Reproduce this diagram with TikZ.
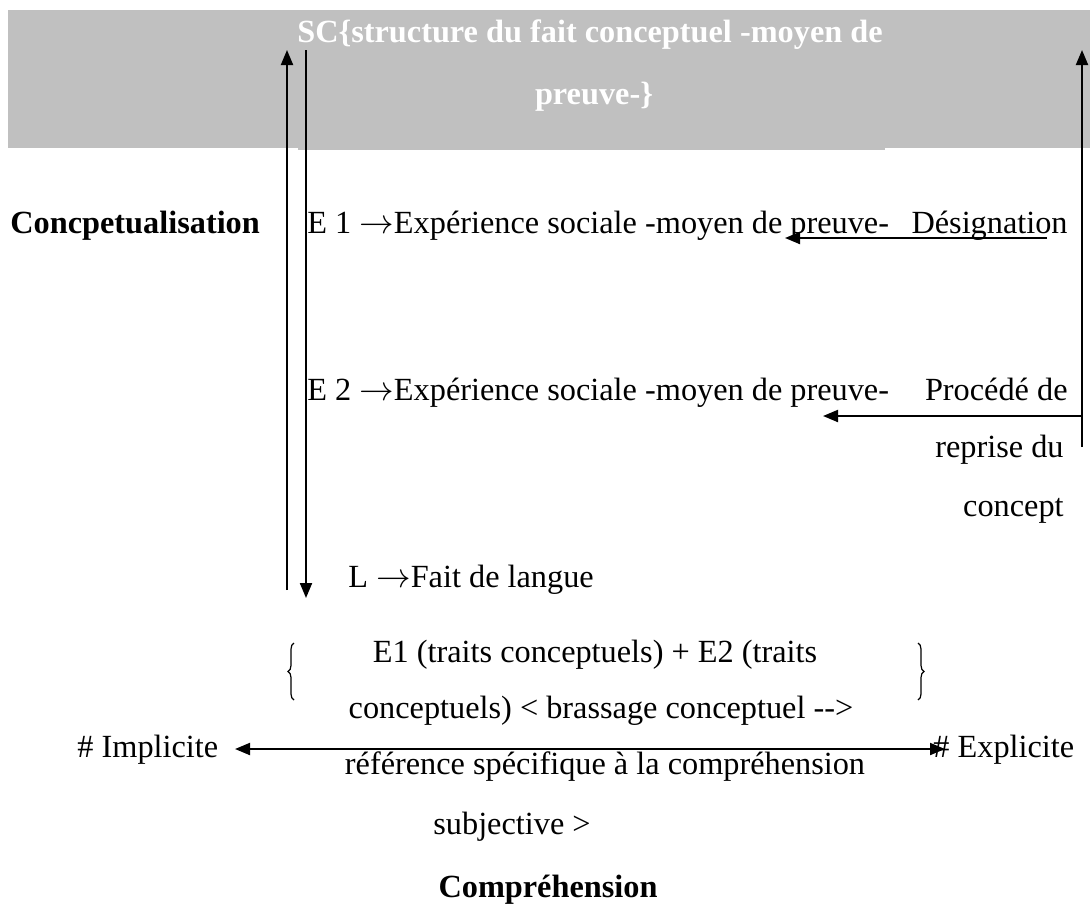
\documentclass[tikz,border=0pt]{standalone}
\usepackage{fontspec}
\setmainfont{Liberation Serif}
\usetikzlibrary{arrows.meta,decorations.pathreplacing}
\definecolor{graybg}{HTML}{C0C0C0}
\begin{document}
\begin{tikzpicture}[x=0.5pt,y=-0.5pt,
  txt/.style={inner sep=0pt,font=\fontsize{16.15pt}{19pt}\selectfont},
  btxt/.style={inner sep=0pt,font=\fontsize{16.15pt}{19pt}\selectfont\bfseries},
  arr/.style={line width=1pt,-{Triangle[length=7.5pt,width=6pt]}},
  darr/.style={line width=1pt,{Triangle[length=7.5pt,width=6pt]}-{Triangle[length=7.5pt,width=6pt]}},
  bracestyle/.style={line width=0.6pt,decorate,decoration={brace,amplitude=3pt}}
]
\useasboundingbox (0,0) rectangle (1090,905);
% grey title band
\fill[graybg] (8,10) rectangle (1090,148);
\fill[graybg] (298,147) rectangle (885,150);
\node[btxt,text=white,anchor=base] (t1) at (590,42) {SC\{structure du fait conceptuel -moyen de};
\node[btxt,text=white,anchor=base] (t2) at (594,104) {preuve-\}};
% vertical arrows
\coordinate (la0) at (287,590); \coordinate (la1) at (287,50);
\draw[arr] (la0) -- (la1);
\coordinate (da0) at (306,50); \coordinate (da1) at (306,598);
\draw[arr] (da0) -- (da1);
\coordinate (ra0) at (1082,447); \coordinate (ra1) at (1082,50);
\draw[arr] (ra0) -- (ra1);
% left label
\node[btxt,anchor=base west] (conc) at (10,233) {Concpetualisation};
% rows
\node[txt,anchor=base west] (e1) at (307,233) {E 1 $\rightarrow$Expérience sociale -moyen de preuve-};
\node[txt,anchor=base east] (des) at (1068,233) {Désignation};
\coordinate (e1a) at (1047,238); \coordinate (e1b) at (785,238);
\draw[arr] (e1a) -- (e1b);
\node[txt,anchor=base west] (e2) at (307,400) {E 2 $\rightarrow$Expérience sociale -moyen de preuve-};
\node[txt,anchor=base east] (pr1) at (1068,400) {Procédé de};
\node[txt,anchor=base east] (pr2) at (1064,457) {reprise du};
\node[txt,anchor=base east] (pr3) at (1064,516) {concept};
\coordinate (e2a) at (1082,416); \coordinate (e2b) at (823,416);
\draw[arr] (e2a) -- (e2b);
\node[txt,anchor=base west] (L) at (348,587) {L $\rightarrow$Fait de langue};
% braces
\coordinate (lb0) at (294,700); \coordinate (lb1) at (294,643);
\draw[bracestyle] (lb0) -- (lb1);
\coordinate (rb0) at (918,643); \coordinate (rb1) at (918,700);
\draw[bracestyle] (rb0) -- (rb1);
% paragraph
\node[txt,anchor=base] (p1) at (595,662) {E1 (traits conceptuels) + E2 (traits};
\node[txt,anchor=base] (p2) at (601,718) {conceptuels) < brassage conceptuel -{}->};
\node[txt,anchor=base] (p3) at (605,774) {référence spécifique à la compréhension};
\node[txt,anchor=base] (p4) at (512,834) {subjective >};
% implicit / explicit
\node[txt,anchor=base west] (imp) at (77,757) {\# Implicite};
\node[txt,anchor=base west] (exp) at (933,757) {\# Explicite};
\coordinate (ia) at (235,749); \coordinate (ea) at (945,749);
\draw[darr] (ia) -- (ea);
\node[btxt,anchor=base] (comp) at (548,897) {Compréhension};
\end{tikzpicture}
\end{document}
